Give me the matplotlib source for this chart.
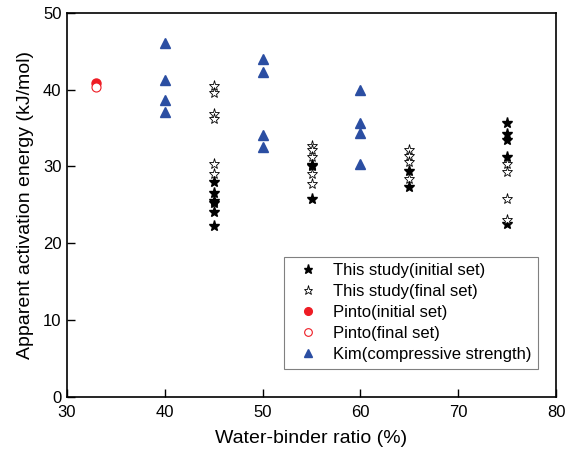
import numpy as np
import matplotlib.pyplot as plt

plt.rcParams['font.family'] = ['Liberation Sans', 'DejaVu Sans']

# This study - initial set
init_x = [45, 45, 45, 45, 45, 45, 55, 55, 55, 65, 65, 75, 75, 75, 75, 75]
init_y = [28.0, 26.6, 25.5, 25.3, 24.1, 22.3, 30.0, 30.2, 25.8, 29.4, 27.3, 35.7, 34.2, 33.4, 31.2, 22.5]

# This study - final set
final_x = [45, 45, 45, 45, 45, 45, 55, 55, 55, 55, 55, 65, 65, 65, 65, 75, 75, 75, 75]
final_y = [40.5, 39.5, 36.8, 36.2, 30.3, 29.0, 32.7, 32.1, 31.2, 29.0, 27.7, 32.1, 31.4, 30.6, 28.3,
           30.3, 29.3, 25.7, 23.0]

# Pinto
pinto_init_x = [33]
pinto_init_y = [40.9]
pinto_final_x = [33]
pinto_final_y = [40.3]

# Kim (compressive strength)
kim_x = [40, 40, 40, 40, 50, 50, 50, 50, 60, 60, 60, 60]
kim_y = [46.1, 41.2, 38.6, 37.1, 44.0, 42.3, 34.1, 32.5, 39.9, 35.6, 34.3, 30.3]

fig = plt.figure(figsize=(5.71, 4.59), dpi=100)
ax = fig.add_axes([67/571, 1-397/459, (556-67)/571, (397-12.7)/459])

ax.plot(init_x, init_y, ls='none', marker='*', ms=8, color='black', label='This study(initial set)')
ax.plot(final_x, final_y, ls='none', marker='*', ms=8, mfc='white', mec='black', mew=0.6,
        label='This study(final set)')
ax.plot(pinto_init_x, pinto_init_y, ls='none', marker='o', ms=6.5, color='#ee1c24', label='Pinto(initial set)')
ax.plot(pinto_final_x, pinto_final_y, ls='none', marker='o', ms=6.5, mfc='white', mec='#ee1c24', mew=0.8,
        label='Pinto(final set)')
ax.plot(kim_x, kim_y, ls='none', marker='^', ms=7, color='#2b4ea2', label='Kim(compressive strength)')

ax.set_xlim(30, 80)
ax.set_ylim(0, 50)
ax.set_xticks(np.arange(30, 81, 10))
ax.set_yticks(np.arange(0, 51, 10))
ax.tick_params(direction='in', length=5.5, width=1, labelsize=12)
ax.tick_params(axis='x', pad=6)
ax.tick_params(axis='y', pad=4)
for s in ax.spines.values():
    s.set_linewidth(1.2)

ax.set_xlabel('Water-binder ratio (%)', fontsize=14, labelpad=7)
ax.set_ylabel('Apparent activation energy (kJ/mol)', fontsize=14, labelpad=6)

leg = ax.legend(loc='lower right', bbox_to_anchor=(0.963, 0.073), fontsize=12, fancybox=False,
                edgecolor='#808080', framealpha=1, handletextpad=0.5, borderpad=0.4,
                labelspacing=0.36, markerscale=0.85, handlelength=2.0, borderaxespad=0)
leg.get_frame().set_linewidth(0.8)

fig.savefig('out.png', dpi=100)
